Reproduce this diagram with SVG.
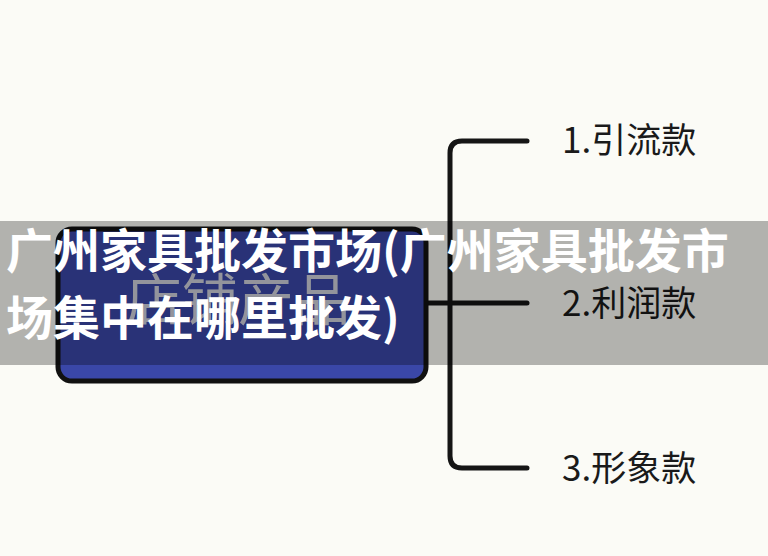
<svg xmlns="http://www.w3.org/2000/svg" width="768" height="556" viewBox="0 0 768 556">
  <style>
    .conn { fill: none; stroke: #151515; stroke-width: 5; stroke-linecap: round; stroke-linejoin: round; }
    .leaf { font-family: "Noto Sans CJK SC", "Noto Sans", sans-serif; font-size: 35px; fill: #1a1a1a; }
    .root-box { fill: #3a47a8; stroke: #111111; stroke-width: 5; }
    .root-text { font-family: "Noto Sans CJK SC", "Noto Sans", sans-serif; font-size: 56px; fill: #cfd1dc; }
    .banner-text { font-family: "Noto Sans CJK SC", "Noto Sans", sans-serif; font-size: 47px; font-weight: bold; fill: #ffffff; }
  </style>
  <rect x="0" y="0" width="768" height="556" fill="#fbfbf6"/>

  <g id="connectors">
    <path class="conn" d="M427 303 H527"/>
    <path class="conn" d="M527 141 H462 Q450 141 450 153 V456 Q450 468 462 468 H527"/>
  </g>

  <g id="node-root">
    <rect class="root-box" x="58" y="229" width="368" height="152" rx="14" ry="14"/>
    <text class="root-text" x="238" y="320" text-anchor="middle">店铺产品</text>
  </g>

  <g id="node-1">
    <text class="leaf" x="562" y="153">1.引流款</text>
  </g>
  <g id="node-2">
    <text class="leaf" x="562" y="316">2.利润款</text>
  </g>
  <g id="node-3">
    <text class="leaf" x="562" y="481">3.形象款</text>
  </g>

  <g id="banner">
    <rect x="0" y="221" width="768" height="144" fill="#000000" fill-opacity="0.29"/>
    <text class="banner-text" x="6" y="268">广州家具批发市场(广州家具批发市</text>
    <text class="banner-text" x="6" y="335">场集中在哪里批发)</text>
  </g>
</svg>
